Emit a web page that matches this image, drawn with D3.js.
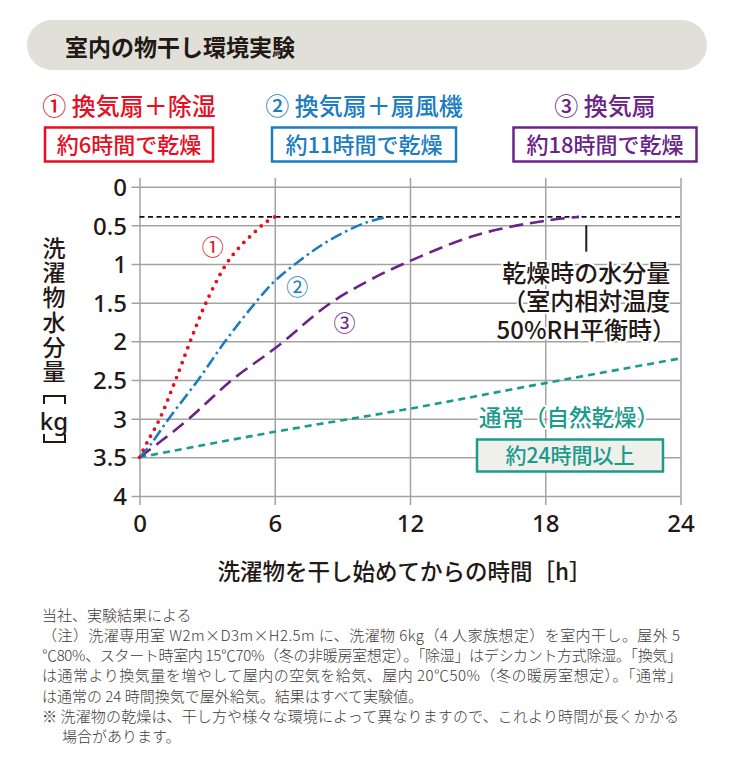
<!DOCTYPE html>
<html><head><meta charset="utf-8">
<script src="https://cdn.jsdelivr.net/npm/d3@7"></script>
<style>
html,body{margin:0;padding:0;background:#fff;}
svg{display:block;font-family:"Noto Sans CJK JP","Noto Sans",sans-serif;}
</style></head>
<body>
<script>
// ---- data ----
const title = "室内の物干し環境実験";
const seriesNames = ["① 換気扇＋除湿", "② 換気扇＋扇風機", "③ 換気扇"];
const seriesTimes = ["約6時間で乾燥", "約11時間で乾燥", "約18時間で乾燥"];
const seriesColors = ["#e50f24", "#1a7cc1", "#6a2388"];
const curveMarks = ["①", "②", "③"];

const xTicks = [0, 6, 12, 18, 24];
const yTicks = [0, 0.5, 1, 1.5, 2, 2.5, 3, 3.5, 4];
const yTickLabels = ["0", "0.5", "1", "1.5", "2", "2.5", "3", "3.5", "4"];

// hours / water content [kg]
const s1Hours = [0, 0.35, 0.9, 1.6, 2.25, 2.95, 3.85, 4.5, 5.1, 5.6, 6];
const s1Water = [3.5, 3.3, 3.0, 2.5, 2.0, 1.5, 1.0, 0.76, 0.59, 0.46, 0.39];
const s2Hours = [0, 0.5, 1.3, 2.6, 3.8, 5.0, 6, 7, 8, 9, 10, 11];
const s2Water = [3.5, 3.33, 3.0, 2.5, 2.0, 1.55, 1.22, 0.98, 0.77, 0.6, 0.47, 0.39];
const s3Hours = [0, 1, 2.2, 4.1, 6.1, 8.4, 10.2, 12, 15, 18, 19.5];
const s3Water = [3.5, 3.28, 3.0, 2.5, 2.07, 1.52, 1.21, 0.96, 0.62, 0.44, 0.39];
const normalHours = [0, 6, 12, 18, 24];
const normalWater = [3.5, 3.17, 2.87, 2.54, 2.22];
const dryLevel = 0.39;

const normalLabel = "通常（自然乾燥）";
const normalTime = "約24時間以上";
const dryNote = ["乾燥時の水分量", "（室内相対温度", "50%RH平衡時）"];
const yTitle = "洗濯物水分量";
const yTitleUnit = "kg";
const xTitle = "洗濯物を干し始めてからの時間［h］";
const notes = [
  "当社、実験結果による",
  "（注）洗濯専用室 W2m×D3m×H2.5m に、洗濯物 6kg（4 人家族想定）を室内干し。屋外 5",
  "℃80%、スタート時室内 15℃70%（冬の非暖房室想定）。「除湿」はデシカント方式除湿。「換気」",
  "は通常より換気量を増やして屋内の空気を給気、屋内 20℃50%（冬の暖房室想定）。「通常」",
  "は通常の 24 時間換気で屋外給気。結果はすべて実験値。",
  "※ 洗濯物の乾燥は、干し方や様々な環境によって異なりますので、これより時間が長くかかる",
  "場合があります。"
];

// ---- layout ----
const W = 735, H = 760;
const svg = d3.select("body").append("svg").attr("width", W).attr("height", H);
const ink = "#231815";
const teal = "#1a9b8d";

const x = d3.scaleLinear().domain([0, 24]).range([139.5, 680.5]);
const y = d3.scaleLinear().domain([0, 4]).range([186.7, 496]);

// header
svg.append("rect").attr("x", 27).attr("y", 20).attr("width", 680).attr("height", 50)
  .attr("rx", 25).attr("fill", "#e1e0d8");
svg.append("text").attr("x", 65).attr("y", 55.5).attr("font-size", 23).attr("font-weight", 700)
  .attr("fill", ink).text(title);

// legend
const legendCx = [129, 364, 605];
const boxW = [168, 184, 183];
seriesNames.forEach((n, i) => {
  svg.append("text").attr("x", legendCx[i]).attr("y", 115).attr("text-anchor", "middle")
    .attr("font-size", 24).attr("font-weight", 500).attr("fill", seriesColors[i]).text(n);
  svg.append("rect").attr("x", legendCx[i] - boxW[i] / 2).attr("y", 127.5).attr("width", boxW[i])
    .attr("height", 34).attr("fill", "#fff").attr("stroke", seriesColors[i]).attr("stroke-width", 2.5);
  svg.append("text").attr("x", legendCx[i]).attr("y", 152.5).attr("text-anchor", "middle")
    .attr("font-size", 22).attr("font-weight", 500).attr("fill", seriesColors[i]).text(seriesTimes[i]);
});

// grid via axes
const gridColor = "#a3a3a3";
const yAxis = d3.axisLeft(y).tickValues(yTicks).tickFormat((d, i) => yTickLabels[i])
  .tickSize(-(680.5 - 131.5)).tickPadding(4.5);
const gy = svg.append("g").attr("transform", "translate(131.5,0)").call(yAxis);
gy.select(".domain").remove();
gy.selectAll(".tick line").attr("stroke", gridColor).attr("stroke-width", 1.5);
gy.selectAll(".tick text").attr("font-size", 24).attr("font-family", "'Noto Sans',sans-serif")
  .attr("font-weight", 500).attr("fill", ink).attr("dy", "0.36em");

const xAxis = d3.axisBottom(x).tickValues(xTicks).tickSize(-(505 - 178)).tickPadding(10);
const gx = svg.append("g").attr("transform", "translate(0,505)").call(xAxis);
gx.select(".domain").remove();
gx.selectAll(".tick line").attr("stroke", gridColor).attr("stroke-width", 1.5);
gx.selectAll(".tick text").attr("font-size", 24).attr("font-family", "'Noto Sans',sans-serif")
  .attr("font-weight", 500).attr("fill", ink);

// dry level dashed line
svg.append("line").attr("x1", x(0)).attr("x2", x(24)).attr("y1", y(dryLevel)).attr("y2", y(dryLevel))
  .attr("stroke", "#111").attr("stroke-width", 1.6).attr("stroke-dasharray", "5 3.5");

// curves
const line = d3.line().x(d => x(d[0])).y(d => y(d[1])).curve(d3.curveCatmullRom.alpha(0.5));
const zip = (a, b) => a.map((v, i) => [v, b[i]]);

svg.append("path").datum(zip(normalHours, normalWater)).attr("d", line).attr("fill", "none")
  .attr("stroke", teal).attr("stroke-width", 2.6).attr("stroke-dasharray", "7 5");
svg.append("path").datum(zip(s3Hours, s3Water)).attr("d", line).attr("fill", "none")
  .attr("stroke", seriesColors[2]).attr("stroke-width", 2.6).attr("stroke-dasharray", "14 7");
svg.append("path").datum(zip(s2Hours, s2Water)).attr("d", line).attr("fill", "none")
  .attr("stroke", seriesColors[1]).attr("stroke-width", 2.6).attr("stroke-dasharray", "12 4 2.5 4");
svg.append("path").datum(zip(s1Hours, s1Water)).attr("d", line).attr("fill", "none")
  .attr("stroke", seriesColors[0]).attr("stroke-width", 3.8).attr("stroke-linecap", "round")
  .attr("stroke-dasharray", "0 8");

// circled marks near curves
const markPos = [[3.25, 0.79], [7.0, 1.3], [9.1, 1.77]];
curveMarks.forEach((m, i) => {
  svg.append("text").attr("x", x(markPos[i][0])).attr("y", y(markPos[i][1])).attr("dy", "0.35em")
    .attr("text-anchor", "middle").attr("font-size", 22).attr("font-weight", 400)
    .attr("fill", seriesColors[i]).text(m);
});

// dry-level note
svg.append("line").attr("x1", x(19.82)).attr("x2", x(19.82)).attr("y1", y(0.5)).attr("y2", y(0.84))
  .attr("stroke", ink).attr("stroke-width", 2);
const noteText = svg.append("text").attr("x", x(19.82)).attr("y", 281.5).attr("text-anchor", "middle")
  .attr("font-size", 24).attr("font-weight", 500).attr("fill", ink)
  .attr("stroke", "#fff").attr("stroke-width", 4).attr("paint-order", "stroke");
dryNote.forEach((t, i) => {
  noteText.append("tspan").attr("x", x(19.82)).attr("dy", i === 0 ? 0 : 28.5).text(t);
});

// normal label
svg.append("text").attr("x", 569).attr("y", 426).attr("text-anchor", "middle")
  .attr("font-size", 22.5).attr("font-weight", 500).attr("fill", teal)
  .attr("stroke", "#fff").attr("stroke-width", 4).attr("paint-order", "stroke").text(normalLabel);
svg.append("rect").attr("x", 477).attr("y", 439.5).attr("width", 186).attr("height", 32)
  .attr("fill", "#f0f0eb").attr("stroke", teal).attr("stroke-width", 2.5);
svg.append("text").attr("x", 570).attr("y", 463).attr("text-anchor", "middle")
  .attr("font-size", 21).attr("font-weight", 500).attr("fill", teal).text(normalTime);

// y title (vertical text)
svg.append("text").attr("x", 54).attr("y", 236.5)
  .style("writing-mode", "vertical-rl").style("letter-spacing", "1.7px")
  .attr("font-size", 23).attr("font-weight", 500).attr("fill", ink).text(yTitle);
// vertical brackets
svg.append("path").attr("d", "M44,404 V396 H65 V404").attr("fill", "none")
  .attr("stroke", ink).attr("stroke-width", 2);
svg.append("text").attr("x", 54).attr("y", 421).attr("dy", "0.36em").attr("text-anchor", "middle")
  .attr("font-size", 24).attr("font-family", "'Noto Sans',sans-serif").attr("font-weight", 500)
  .attr("fill", ink).text(yTitleUnit);
svg.append("path").attr("d", "M44,434 V442 H65 V434").attr("fill", "none")
  .attr("stroke", ink).attr("stroke-width", 2);

// x title
svg.append("text").attr("x", 404.5).attr("y", 580).attr("text-anchor", "middle")
  .attr("font-size", 22.5).attr("font-weight", 500).attr("fill", ink).text(xTitle);

// notes
const noteX = [42, 42, 42, 42, 42, 42, 62];
const noteLen = [null, 638, 640, 640, null, 637, null];
notes.forEach((t, i) => {
  const el = svg.append("text").attr("x", noteX[i]).attr("y", 620.5 + i * 20.3)
    .attr("font-size", 15).attr("font-weight", 300).attr("fill", "#3e3a39").text(t);
  if (noteLen[i]) el.attr("textLength", noteLen[i]).attr("lengthAdjust", "spacing");
});
</script>
</body></html>
